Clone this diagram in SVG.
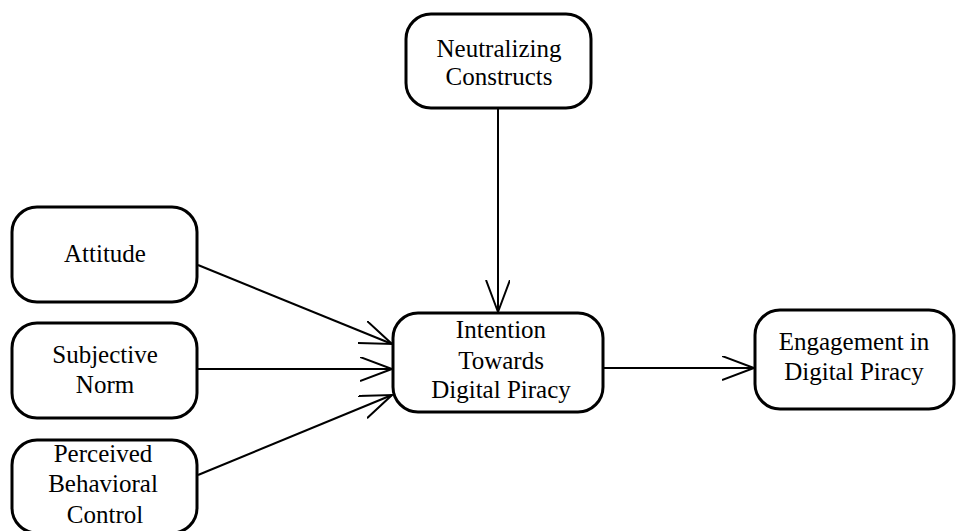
<svg xmlns="http://www.w3.org/2000/svg" width="956" height="531" viewBox="0 0 956 531">
<style>
.box{fill:#fff;stroke:#000;stroke-width:3}
.t{font-family:'Liberation Serif','DejaVu Serif','Noto Serif',Times,serif;font-size:25px;fill:#000;text-anchor:middle}
.c{stroke:#000;stroke-width:2;fill:none}
</style>
<defs>
<marker id="arr" markerUnits="userSpaceOnUse" markerWidth="36" markerHeight="28" refX="32" refY="12" orient="auto" viewBox="0 0 36 28">
<path d="M0,0 L32,12 L0,24" fill="none" stroke="#000" stroke-width="2"/>
</marker>
</defs>
<rect width="956" height="531" fill="#fff"/>
<g id="connectors">
<line class="c" x1="498" y1="108" x2="498" y2="312" marker-end="url(#arr)"/>
<line class="c" x1="198" y1="265" x2="392" y2="344" marker-end="url(#arr)"/>
<line class="c" x1="198" y1="369" x2="392" y2="369" marker-end="url(#arr)"/>
<line class="c" x1="198" y1="475" x2="392" y2="395" marker-end="url(#arr)"/>
<line class="c" x1="603" y1="368" x2="754" y2="368" marker-end="url(#arr)"/>
</g>
<g id="neutralizing">
<rect class="box" x="406" y="14" width="185" height="94" rx="25"/>
<text class="t" x="499" y="57" font-family="Liberation Serif, serif">Neutralizing</text>
<text class="t" x="499" y="85" font-family="Liberation Serif, serif">Constructs</text>
</g>
<g id="attitude">
<rect class="box" x="12" y="207" width="185" height="95" rx="25"/>
<text class="t" x="105" y="262">Attitude</text>
</g>
<g id="subjective">
<rect class="box" x="12" y="323" width="185" height="95" rx="25"/>
<text class="t" x="105" y="363">Subjective</text>
<text class="t" x="105" y="393">Norm</text>
</g>
<g id="perceived">
<rect class="box" x="12" y="440" width="185" height="93" rx="25"/>
<text class="t" x="103" y="462">Perceived</text>
<text class="t" x="103" y="492">Behavioral</text>
<text class="t" x="105" y="523">Control</text>
</g>
<g id="intention">
<rect class="box" x="393" y="313" width="210" height="99" rx="25"/>
<text class="t" x="501" y="338">Intention</text>
<text class="t" x="501" y="369">Towards</text>
<text class="t" x="501" y="398">Digital Piracy</text>
</g>
<g id="engagement">
<rect class="box" x="755" y="310" width="199" height="99" rx="25"/>
<text class="t" x="854" y="350">Engagement in</text>
<text class="t" x="854" y="380">Digital Piracy</text>
</g>
</svg>
